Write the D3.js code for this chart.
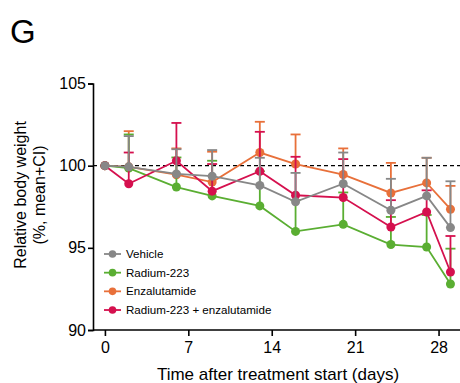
<!DOCTYPE html>
<html><head><meta charset="utf-8">
<script src="https://cdn.jsdelivr.net/npm/d3@7"></script>
<style>body{margin:0;background:#fff}svg{display:block;font-family:"Liberation Sans",Arial,sans-serif}</style>
</head><body><svg id="c" width="460" height="383"></svg>
<script>
const days = [0, 2, 6, 9, 13, 16, 20, 24, 27, 29];
const seriesNames = ["Vehicle", "Radium-223", "Enzalutamide", "Radium-223 + enzalutamide"];
const colors = ["#878787", "#5aae32", "#e8703a", "#d5104e"];
const vehicleMean = [100, 99.93, 99.5, 99.36, 98.8, 97.8, 98.9, 97.29, 98.16, 96.23];
const vehicleUpper = [100, 101.8, 101.0, 100.95, 100.48, 99.56, 100.8, 99.2, 100.48, 99.05];
const radiumMean = [100, 99.85, 98.7, 98.16, 97.55, 96.0, 96.43, 95.2, 95.05, 92.8];
const radiumUpper = [100, 101.9, 100.5, 100.3, 99.66, 97.9, 98.37, 96.88, 97.0, 94.95];
const enzaMean = [100, 99.93, 99.45, 99.0, 100.8, 100.1, 99.46, 98.34, 98.95, 97.35];
const enzaUpper = [100, 102.1, 101.05, 100.85, 102.67, 101.9, 101.05, 100.17, 100.48, 98.77];
const comboMean = [100, 98.9, 100.3, 98.45, 99.66, 98.2, 98.06, 96.27, 97.18, 93.53];
const comboUpper = [100, 100.8, 102.6, 100.1, 102.06, 100.54, 100.4, 97.9, 98.5, 95.72];
const xTicks = [0, 7, 14, 21, 28];
const yTicks = [90, 95, 100, 105];

const means = [vehicleMean, radiumMean, enzaMean, comboMean];
const uppers = [vehicleUpper, radiumUpper, enzaUpper, comboUpper];

const svg = d3.select("#c");
const x = d3.scaleLinear().domain([-1, 29.8]).range([93, 460]);
const y = d3.scaleLinear().domain([90, 105]).range([330, 83.5]);

// panel letter
svg.append("text").attr("x", 10).attr("y", 43).attr("font-size", 33).attr("fill", "#000").text("G");

// reference dashed line
svg.append("line").attr("x1", x(-1)).attr("x2", 460).attr("y1", y(100)).attr("y2", y(100))
  .attr("stroke", "#000").attr("stroke-width", 1.2).attr("stroke-dasharray", "4,3");

// axes
const ax = svg.append("g").attr("transform", `translate(0,${y(90)})`)
  .call(d3.axisBottom(x).tickValues(xTicks).tickSize(6).tickPadding(6).tickFormat(d3.format("d")));
const ay = svg.append("g").attr("transform", `translate(${x(-1)},0)`)
  .call(d3.axisLeft(y).tickValues(yTicks).tickSize(5).tickPadding(2).tickFormat(d3.format("d")));
[ax, ay].forEach(g => {
  g.select(".domain").attr("stroke", "#000").attr("stroke-width", 1.6);
  g.selectAll(".tick line").attr("stroke", "#000").attr("stroke-width", 1.6);
  g.selectAll(".tick text").attr("font-size", 16).attr("fill", "#000")
    .attr("font-family", "'Liberation Sans',Arial,sans-serif");
});
ax.select(".domain").attr("d", `M${x(-1)},0H460`);

// axis titles
svg.append("text").attr("x", 278).attr("y", 380).attr("text-anchor", "middle")
  .attr("font-size", 17).text("Time after treatment start (days)");
const yt = svg.append("text").attr("transform", "translate(0,195) rotate(-90)")
  .attr("text-anchor", "middle").attr("font-size", 16);
yt.append("tspan").attr("x", 0).attr("y", 26).text("Relative body weight");
yt.append("tspan").attr("x", 0).attr("y", 45).text("(%, mean+CI)");

// series draw order
const order = [2, 1, 3, 0];
const line = d3.line().x((d, i) => x(days[i])).y(d => y(d));
order.forEach(s => {
  const g = svg.append("g");
  const c = colors[s];
  days.forEach((d, i) => {
    if (uppers[s][i] > means[s][i]) {
      g.append("line").attr("x1", x(d)).attr("x2", x(d)).attr("y1", y(means[s][i])).attr("y2", y(uppers[s][i]))
        .attr("stroke", c).attr("stroke-width", 1.8);
      g.append("line").attr("x1", x(d) - 5).attr("x2", x(d) + 5).attr("y1", y(uppers[s][i])).attr("y2", y(uppers[s][i]))
        .attr("stroke", c).attr("stroke-width", 1.8);
    }
  });
  g.append("path").datum(means[s]).attr("d", line).attr("fill", "none").attr("stroke", c).attr("stroke-width", 1.8);
  g.selectAll("circle").data(means[s]).join("circle")
    .attr("cx", (d, i) => x(days[i])).attr("cy", d => y(d)).attr("r", 4.5).attr("fill", c);
});

// legend
const lg = svg.append("g");
seriesNames.forEach((n, i) => {
  const yy = 254 + i * 18.67;
  lg.append("line").attr("x1", 104).attr("x2", 121).attr("y1", yy).attr("y2", yy).attr("stroke", colors[i]).attr("stroke-width", 1.8);
  lg.append("circle").attr("cx", 112.5).attr("cy", yy).attr("r", 3.8).attr("fill", colors[i]);
  lg.append("text").attr("x", 126).attr("y", yy + 4).attr("font-size", 11.6).attr("fill", "#000").text(n);
});
</script></body></html>
